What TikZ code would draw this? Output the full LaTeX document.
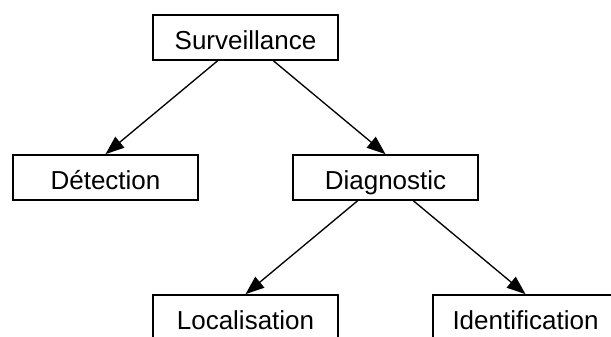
\documentclass[tikz,border=0pt]{standalone}
\usepackage{fontspec}
\setmainfont{Liberation Sans}
\usetikzlibrary{positioning,arrows.meta}
\begin{document}
\begin{tikzpicture}
  [x=0.75pt, y=0.75pt,
    >={Triangle[length=14pt,width=10.5pt]}, node distance=105pt and 105pt, on grid,
    task/.style={
      rectangle, draw, line width=1.3pt, minimum width=138.75pt,
      minimum height=33.75pt, inner sep=0pt, text height=18.5pt, text depth=0pt,
      font=\fontsize{19.5}{22}\selectfont
    },
  ]
  \useasboundingbox (0,0) rectangle (611,336);

  \node[task] (surv) at (245.5, 298.5) {Surveillance};
  \node[task] (det)  [below left=of surv]  {Détection};
  \node[task] (diag) [below right=of surv] {Diagnostic};
  \node[task] (loc)  [below left=of diag]  {Localisation};
  \node[task] (ident) [below right=of diag] {Identification};

  % Edges between nodes
  \path[->, line width=1pt]
  ([xshift=-21pt]surv.south) edge (det.north)
  ([xshift=21pt]surv.south)  edge (diag.north)
  ([xshift=-21pt]diag.south) edge (loc.north)
  ([xshift=21pt]diag.south)  edge (ident.north);
\end{tikzpicture}
\end{document}
